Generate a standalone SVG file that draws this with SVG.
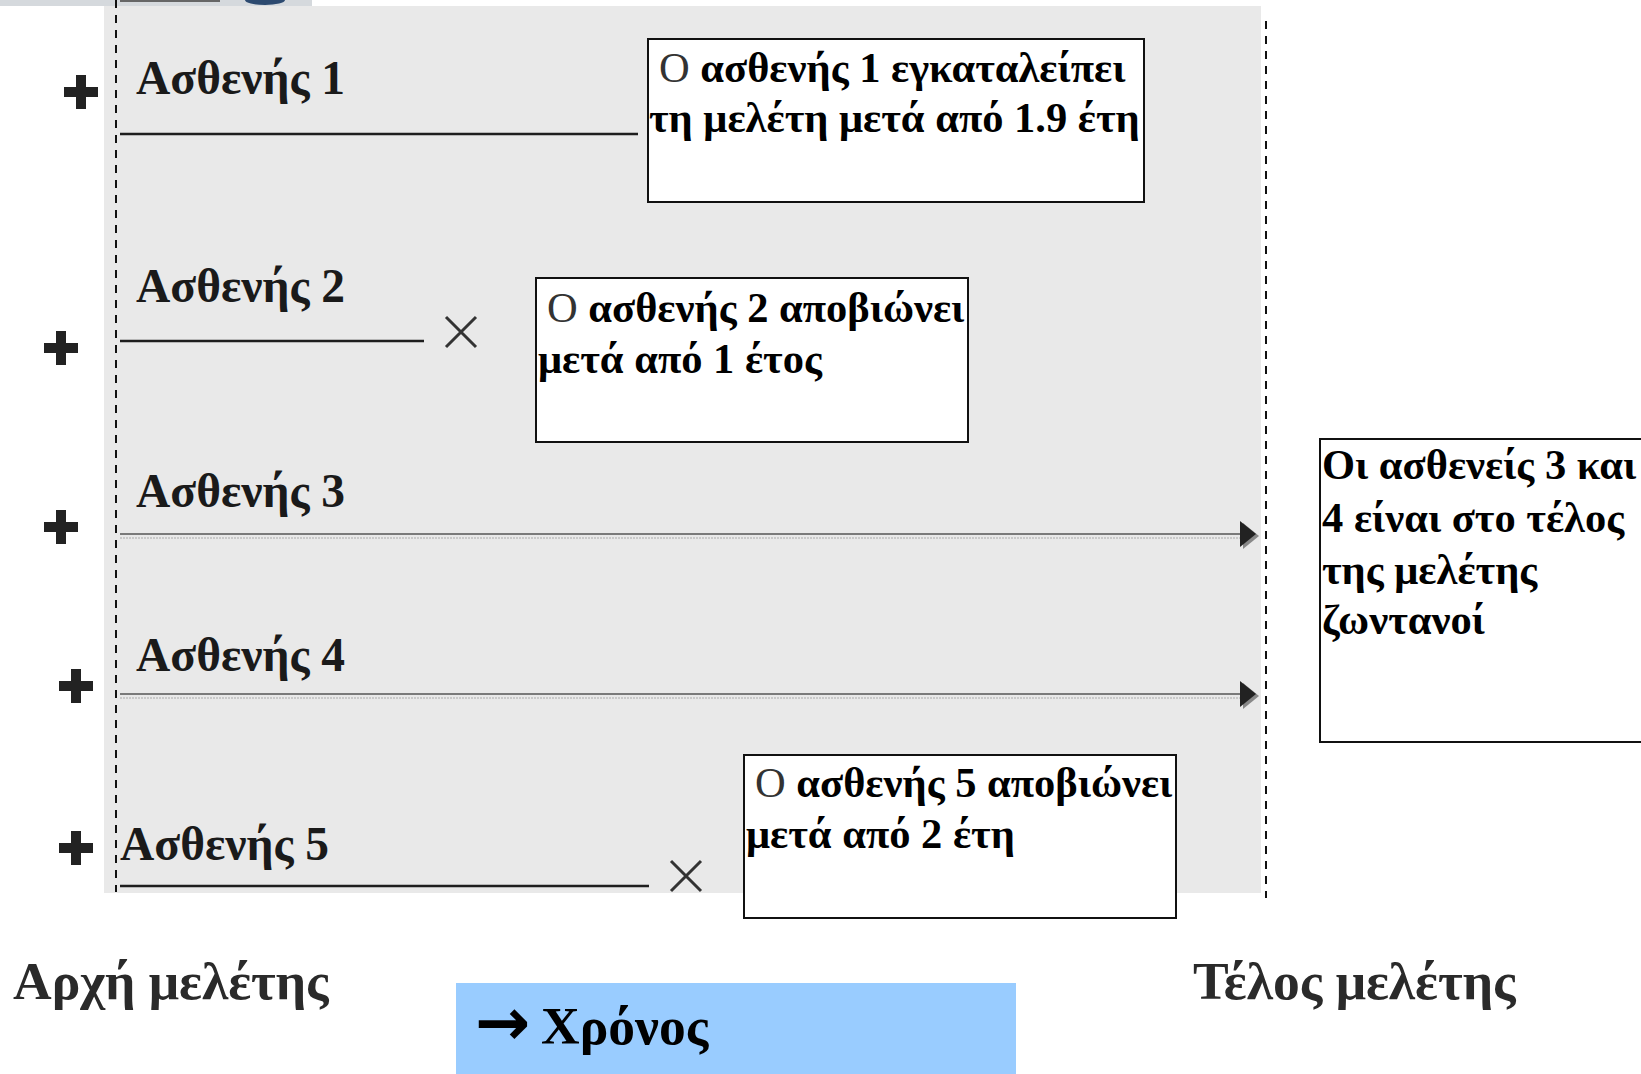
<svg xmlns="http://www.w3.org/2000/svg" width="1641" height="1074" viewBox="0 0 1641 1074">
<style>
.lbl{font-family:"Liberation Serif","Times New Roman",serif;font-weight:bold;font-size:47.5px;fill:#1a1a1a}
.bt{font-family:"Liberation Serif","Times New Roman",serif;font-weight:bold;font-size:42.5px;fill:#000}
.o{font-weight:normal;fill:#333}
.big{font-family:"Liberation Serif","Times New Roman",serif;font-weight:bold;font-size:53.5px;fill:#2a2a2a}
.box{fill:#fff;stroke:#111;stroke-width:2}
.life{stroke:#1e1e1e;stroke-width:2.5}
.x{stroke:#333;stroke-width:3;fill:none}
.plus{fill:#222}
.dash{stroke:#111;stroke-width:2;stroke-dasharray:8 7;fill:none}
</style>
<defs>
<path id="plus" class="plus" d="M-5,-17 H5 V-5 H17 V5 H5 V17 H-5 V5 H-17 V-5 H-5 Z"/>
<g id="xm"><path class="x" d="M-15,-15 L15,15 M15,-15 L-15,15"/></g>
<g id="ah"><path d="M-13,-11 L3,2 L-13,15 Z" fill="#888"/><path d="M-16,-13 L0,0 L-16,13 Z" fill="#222"/></g>
</defs>
<!-- top clipped image strip -->
<rect x="0" y="0" width="312" height="6" fill="#d5d9dd"/>
<rect x="120" y="0" width="100" height="2" fill="#666"/>
<ellipse cx="265" cy="0" rx="20" ry="5" fill="#2c4a70"/>
<!-- background panel -->
<rect id="panel" x="104" y="6" width="1157" height="887" fill="#e9e9e9"/>
<g id="connectors">
<line class="dash" x1="116" y1="0" x2="116" y2="892"/>
<line class="dash" x1="1266" y1="21" x2="1266" y2="898"/>
<line class="life" x1="120" y1="134" x2="638" y2="134"/>
<line class="life" x1="120" y1="341" x2="424" y2="341"/>
<line stroke="#555" stroke-width="1.5" x1="120" y1="534" x2="1242" y2="534"/>
<line stroke="#aaa" stroke-width="1" stroke-dasharray="2 1" x1="120" y1="538" x2="1242" y2="538"/>
<use href="#ah" x="1256" y="534"/>
<line stroke="#555" stroke-width="1.5" x1="120" y1="694" x2="1242" y2="694"/>
<line stroke="#aaa" stroke-width="1" stroke-dasharray="2 1" x1="120" y1="698" x2="1242" y2="698"/>
<use href="#ah" x="1256" y="694"/>
<line class="life" x1="120" y1="886" x2="649" y2="886"/>
<use href="#xm" x="461" y="332"/>
<use href="#xm" x="686" y="876"/>
</g>
<g id="patient1">
<use href="#plus" x="81" y="92"/>
<text class="lbl" x="136" y="94">Ασθενής 1</text>
</g>
<g id="patient2">
<use href="#plus" x="61" y="348"/>
<text class="lbl" x="136" y="302">Ασθενής 2</text>
</g>
<g id="patient3">
<use href="#plus" x="61" y="527"/>
<text class="lbl" x="136" y="507">Ασθενής 3</text>
</g>
<g id="patient4">
<use href="#plus" x="76" y="686"/>
<text class="lbl" x="136" y="671">Ασθενής 4</text>
</g>
<g id="patient5">
<use href="#plus" x="76" y="848"/>
<text class="lbl" x="120" y="860">Ασθενής 5</text>
</g>
<g id="note1">
<rect class="box" x="648" y="39" width="496" height="163"/>
<text class="bt" x="659" y="82"><tspan class="o">Ο</tspan> ασθενής 1 εγκαταλείπει</text>
<text class="bt" x="649" y="132">τη μελέτη μετά από 1.9 έτη</text>
</g>
<g id="note2">
<rect class="box" x="536" y="278" width="432" height="164"/>
<text class="bt" x="547" y="322"><tspan class="o">Ο</tspan> ασθενής 2 αποβιώνει</text>
<text class="bt" x="538" y="373">μετά από 1 έτος</text>
</g>
<g id="note5">
<rect class="box" x="744" y="755" width="432" height="163"/>
<text class="bt" x="755" y="797"><tspan class="o">Ο</tspan> ασθενής 5 αποβιώνει</text>
<text class="bt" x="746" y="848">μετά από 2 έτη</text>
</g>
<g id="note34">
<rect class="box" x="1320" y="439" width="330" height="303"/>
<text class="bt" x="1322" y="479">Οι ασθενείς 3 και</text>
<text class="bt" x="1322" y="532">4 είναι στο τέλος</text>
<text class="bt" x="1322" y="584">της μελέτης</text>
<text class="bt" x="1322" y="634">ζωντανοί</text>
</g>
<g id="start">
<text class="big" x="13" y="999">Αρχή μελέτης</text>
</g>
<g id="end">
<text class="big" x="1193" y="999">Τέλος μελέτης</text>
</g>
<g id="time">
<rect x="456" y="983" width="560" height="91" fill="#99ccff"/>
<text x="475" y="1045" font-family="DejaVu Sans, sans-serif" font-weight="bold" font-size="66" fill="#000">→</text>
<text class="big" x="541" y="1044" style="fill:#000">Χρόνος</text>
</g>
</svg>
